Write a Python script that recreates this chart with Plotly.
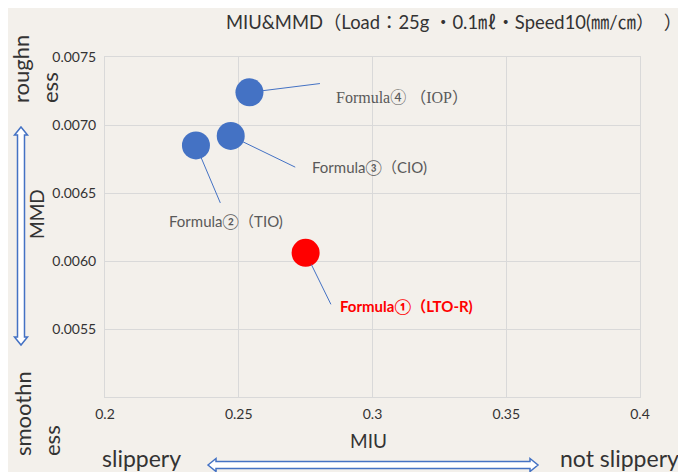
import plotly.graph_objects as go

# ---------------- data ----------------
formulas = ["Formula①（LTO-R)", "Formula②（TIO)", "Formula③（CIO)", "Formula④ （IOP）"]
miu = [0.275, 0.234, 0.247, 0.254]
mmd = [0.00606, 0.00685, 0.00692, 0.00724]
point_colors = ["#FF0000", "#4472C4", "#4472C4", "#4472C4"]

x_ticks = [0.2, 0.25, 0.3, 0.35, 0.4]
x_ticktext = ["0.2", "0.25", "0.3", "0.35", "0.4"]
y_ticks = [0.0055, 0.0060, 0.0065, 0.0070, 0.0075]
y_ticktext = ["0.0055", "0.0060", "0.0065", "0.0070", "0.0075"]

title_text = "MIU&MMD（Load：25g ・0.1㎖・Speed10(㎜/㎝）  ）"

# ---------------- layout geometry ----------------
OFF = 8                      # page body margin
W, H = 686 - OFF, 472 - OFF
L, T = 105 - OFF, 57 - OFF   # plot area left/top in figure px
PW, PH = 535, 340
R, B = W - L - PW, H - T - PH

def fx(p):                   # page px -> paper x
    return (p - OFF - L) / PW

def fy(p):                   # page px -> paper y
    return (T + PH - (p - OFF)) / PH

BG = "#F3F0EB"
GRID = "#D9D9D9"
BLUE = "#4472C4"
TXT = "#333333"
LABEL = "#595959"
FONT = "Lato, 'Noto Sans CJK JP', sans-serif"

fig = go.Figure()
fig.add_trace(go.Scatter(
    x=miu, y=mmd, mode="markers",
    marker=dict(size=28, color=point_colors, line=dict(width=0)),
    hoverinfo="skip", showlegend=False,
))

annotations = []
# leader lines (tail offsets in px from the point)
leader = [(26, 53), (25, 59), (66, 32), (72, -9)]
for xv, yv, (ax, ay) in zip(miu, mmd, leader):
    annotations.append(dict(
        x=xv, y=yv, xref="x", yref="y", text="", showarrow=True,
        arrowhead=0, arrowwidth=1, arrowcolor=BLUE, ax=ax, ay=ay, standoff=13,
    ))
# labels
label_shift = [(32, -53), (-29, -76), (79, -31), (85, -5)]
label_fonts = [
    dict(family=FONT, size=15, color="#FF0000", weight="bold"),
    dict(family=FONT, size=15, color=LABEL),
    dict(family=FONT, size=15, color=LABEL),
    dict(family="'Liberation Serif', 'Noto Sans CJK JP', serif", size=16, color=LABEL),
]
for xv, yv, txt, (sx, sy), f in zip(miu, mmd, formulas, label_shift, label_fonts):
    annotations.append(dict(
        x=xv, y=yv, xref="x", yref="y", text=txt, showarrow=False,
        xanchor="left", yanchor="middle", xshift=sx, yshift=sy, font=f,
    ))

def txt_ann(text, px, py, size, angle=0, align="center"):
    return dict(
        x=fx(px), y=fy(py), xref="paper", yref="paper", text=text,
        showarrow=False, xanchor="center", yanchor="middle",
        textangle=angle, align=align, font=dict(family=FONT, size=size, color=TXT),
    )

annotations += [
    txt_ann(title_text, 454, 22, 18.4),
    txt_ann("MIU", 368, 440, 19),
    txt_ann("MMD", 36, 214, 19, angle=-90),
    txt_ann("roughn<br>ess", 35, 69, 22, angle=-90, align="left"),
    txt_ann("smoothn<br>ess", 37, 414, 22, angle=-90, align="left"),
    txt_ann("slippery", 141, 458, 23),
    txt_ann("not slippery", 619, 458, 23),
]

def poly(pts):
    return "M " + " L ".join(f"{fx(a):.5f},{fy(b):.5f}" for a, b in pts) + " Z"

# vertical double arrow
cx, t0, t1, sw, hw, hl = 21, 127, 345, 3.5, 6.5, 8
v_pts = [(cx, t0), (cx + hw, t0 + hl), (cx + sw, t0 + hl), (cx + sw, t1 - hl), (cx + hw, t1 - hl),
         (cx, t1), (cx - hw, t1 - hl), (cx - sw, t1 - hl), (cx - sw, t0 + hl), (cx - hw, t0 + hl)]
# horizontal double arrow
cy, l0, l1 = 465, 208, 538
h_pts = [(l0, cy), (l0 + hl, cy - hw), (l0 + hl, cy - sw), (l1 - hl, cy - sw), (l1 - hl, cy - hw),
         (l1, cy), (l1 - hl, cy + hw), (l1 - hl, cy + sw), (l0 + hl, cy + sw), (l0 + hl, cy + hw)]
shapes = [
    dict(type="path", xref="paper", yref="paper", path=poly(v_pts),
         fillcolor="white", line=dict(color=BLUE, width=1.5)),
    dict(type="path", xref="paper", yref="paper", path=poly(h_pts),
         fillcolor="white", line=dict(color=BLUE, width=1.5)),
]

fig.update_layout(
    width=W, height=H, autosize=False,
    margin=dict(l=L, r=R, t=T, b=B, pad=0),
    paper_bgcolor=BG, plot_bgcolor=BG,
    font=dict(family=FONT, size=14, color=TXT),
    annotations=annotations, shapes=shapes,
    xaxis=dict(range=[0.2, 0.4], tickvals=x_ticks, ticktext=x_ticktext,
               showgrid=True, gridcolor=GRID, gridwidth=1,
               showline=True, linecolor=GRID, linewidth=1, mirror=True,
               zeroline=False, ticks="", ticklabelstandoff=4,
               tickfont=dict(size=14, color=TXT)),
    yaxis=dict(range=[0.005, 0.0075], tickvals=y_ticks, ticktext=y_ticktext,
               showgrid=True, gridcolor=GRID, gridwidth=1,
               showline=True, linecolor=GRID, linewidth=1, mirror=True,
               zeroline=False, ticks="", ticklabelstandoff=5,
               tickfont=dict(size=14, color=TXT)),
)

fig.write_html("out.html")
